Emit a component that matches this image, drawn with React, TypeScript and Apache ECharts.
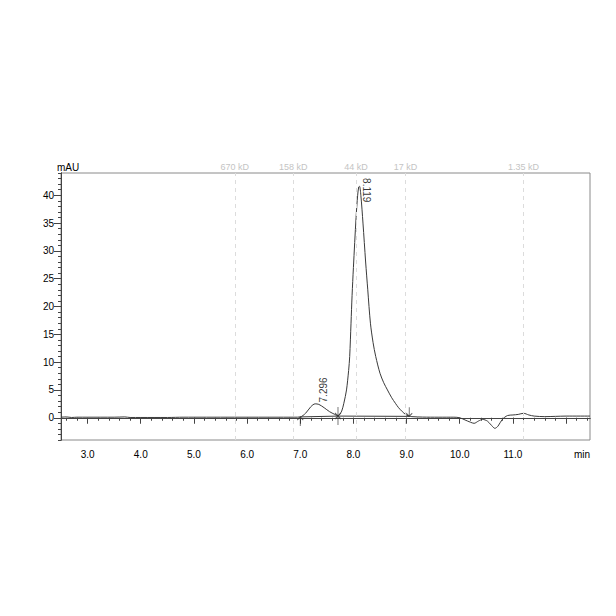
import React, { useEffect, useRef } from "react";
import * as echarts from "echarts";

const traceTime = [
  2.5, 2.6, 2.7, 2.8, 3.0, 3.5, 3.7, 3.8, 4.0, 4.5, 4.8, 5.0, 6.0, 6.9,
  7.0, 7.1, 7.2, 7.28, 7.35, 7.45, 7.55, 7.65, 7.71, 7.74, 7.78, 7.82, 7.87,
  7.91, 7.93, 7.955, 7.975, 8.0, 8.05, 8.08, 8.1, 8.115, 8.14, 8.18, 8.23,
  8.27, 8.32, 8.37, 8.42, 8.5, 8.57, 8.64, 8.72, 8.79, 8.85, 8.92, 8.98, 9.04,
  9.1, 9.3, 9.6, 9.89, 10.0, 10.1, 10.2, 10.27, 10.35, 10.43, 10.52, 10.6,
  10.66, 10.72, 10.8, 10.9, 11.0, 11.1, 11.2, 11.3, 11.4, 11.6, 11.8, 12.0, 12.45,
];
const traceValue = [
  0.1, 0.15, 0.05, 0.1, 0.1, 0.1, 0.15, 0.05, 0.05, 0.05, 0.1, 0.1, 0.1, 0.1,
  0.15, 0.8, 2.0, 2.5, 2.4, 1.8, 1.1, 0.6, 0.35, 0.6, 1.2, 2.6, 5.0,
  8.5, 11, 17, 22, 27, 36, 40, 41.5, 41.6, 40.0, 35, 28,
  23, 17, 13.5, 11, 8, 6.3, 5, 3.6, 2.6, 1.8, 1.1, 0.6, 0.3,
  0.2, 0.12, 0.1, 0.1, 0.0, -0.4, -0.8, -1.0, -0.6, -0.3, -0.6, -1.4,
  -1.9, -1.5, -0.3, 0.4, 0.5, 0.6, 0.8, 0.5, 0.3, 0.2, 0.25, 0.3, 0.3,
];

const baselineTime = [7.0, 7.71, 9.05];
const baselineValue = [0.15, 0.3, 0.25];

const upArrowTime = [7.0, 7.71];
const upArrowValue = [0.15, 0.3];
const downArrowTime = [7.71, 9.05];
const downArrowValue = [0.3, 0.25];

const peakLabels = ["7.296", "8.119"];
const peakLabelTime = [7.43, 8.24];
const peakLabelValue = [5.0, 40.9];
const peakLabelRotate = [90, -90];

const markerNames = ["670 kD", "158 kD", "44 kD", "17 kD", "1.35 kD"];
const markerTimes = [5.77, 6.87, 8.05, 8.98, 11.2];

const xMajorTicks = [3, 4, 5, 6, 7, 8, 9, 10, 11, 12];
const xLabelTicks = [3, 4, 5, 6, 7, 8, 9, 10, 11];
const yLabelTicks = [0, 5, 10, 15, 20, 25, 30, 35, 40];

const X_MIN = 2.5;
const X_MAX = 12.45;
const Y_MIN = -4;
const Y_MAX = 44;

const FONT = "Liberation Sans, Arial, sans-serif";

export default function App() {
  const ref = useRef<HTMLDivElement>(null);
  useEffect(() => {
    if (!ref.current) return;
    document.body.style.margin = "0";
    const chart = echarts.init(ref.current, null, { renderer: "svg" });

    const xMinorTicks: number[] = [];
    for (let i = 26; i <= 124; i += 2) xMinorTicks.push(i / 10);
    const yMinorTicks: number[] = [];
    for (let v = Y_MIN; v <= Y_MAX; v++) yMinorTicks.push(v);

    const axisLineStyle = { color: "#444", width: 1 };
    const arrowStyle = { color: "transparent", borderColor: "#333", borderWidth: 1 };

    chart.setOption({
      animation: false,
      backgroundColor: "#fff",
      textStyle: { fontFamily: FONT },
      grid: {
        left: 61,
        right: 26,
        top: 173,
        bottom: 176,
        show: true,
        borderColor: "#8a8a8a",
        borderWidth: 1,
      },
      xAxis: [
        {
          type: "value",
          min: X_MIN,
          max: X_MAX,
          position: "bottom",
          axisLine: { show: true, lineStyle: axisLineStyle },
          axisTick: { show: true, length: 3, customValues: xMinorTicks, lineStyle: axisLineStyle },
          axisLabel: { show: false },
          splitLine: { show: false },
        },
        {
          type: "value",
          min: X_MIN,
          max: X_MAX,
          position: "bottom",
          axisLine: { show: true, lineStyle: axisLineStyle },
          axisTick: { show: true, length: 6, customValues: xMajorTicks, lineStyle: axisLineStyle },
          axisLabel: {
            show: true,
            customValues: xLabelTicks,
            formatter: (v: number) => v.toFixed(1),
            color: "#000",
            fontSize: 10,
            fontFamily: FONT,
            margin: 9,
          },
          splitLine: { show: false },
        },
      ],
      yAxis: [
        {
          type: "value",
          min: Y_MIN,
          max: Y_MAX,
          position: "left",
          axisLine: { show: true, lineStyle: axisLineStyle },
          axisTick: { show: true, length: 3, customValues: yMinorTicks, lineStyle: axisLineStyle },
          axisLabel: { show: false },
          splitLine: { show: false },
        },
        {
          type: "value",
          min: Y_MIN,
          max: Y_MAX,
          position: "left",
          axisLine: { show: true, lineStyle: axisLineStyle },
          axisTick: { show: true, length: 7, customValues: yLabelTicks, lineStyle: axisLineStyle },
          axisLabel: {
            show: true,
            customValues: yLabelTicks,
            color: "#000",
            fontSize: 10,
            fontFamily: FONT,
            margin: 7,
          },
          splitLine: { show: false },
        },
      ],
      graphic: [
        {
          type: "text",
          left: 57,
          top: 162,
          style: { text: "mAU", font: `10px ${FONT}`, fill: "#000" },
        },
        {
          type: "text",
          left: 574,
          top: 449,
          style: { text: "min", font: `10px ${FONT}`, fill: "#000" },
        },
      ],
      series: [
        {
          type: "line",
          xAxisIndex: 0,
          yAxisIndex: 0,
          data: traceTime.map((t, i) => [t, traceValue[i]]),
          showSymbol: false,
          smooth: 0.3,
          lineStyle: { color: "#3a3a3a", width: 1 },
          z: 3,
          markLine: {
            silent: true,
            symbol: "none",
            lineStyle: { type: [4, 4], color: "#dcdcdc", width: 1 },
            label: {
              show: true,
              position: "end",
              distance: 2,
              formatter: (p: any) => p.name,
              color: "#c4c4c4",
              fontSize: 9,
              fontFamily: FONT,
            },
            data: markerNames.map((n, i) => ({ name: n, xAxis: markerTimes[i] })),
          },
        },
        {
          type: "line",
          xAxisIndex: 0,
          yAxisIndex: 0,
          data: baselineTime.map((t, i) => [t, baselineValue[i]]),
          showSymbol: false,
          lineStyle: { color: "#3a3a3a", width: 1 },
          z: 3,
        },
        {
          type: "scatter",
          xAxisIndex: 0,
          yAxisIndex: 0,
          data: upArrowTime.map((t, i) => [t, upArrowValue[i]]),
          symbol: "path://M3,0 L3,9 M0,3 L3,0 L6,3",
          symbolSize: [6, 9],
          symbolOffset: [0, 4.5],
          itemStyle: arrowStyle,
          z: 4,
        },
        {
          type: "scatter",
          xAxisIndex: 0,
          yAxisIndex: 0,
          data: downArrowTime.map((t, i) => [t, downArrowValue[i]]),
          symbol: "path://M3,0 L3,9 M0,6 L3,9 L6,6",
          symbolSize: [6, 9],
          symbolOffset: [0, -4.5],
          itemStyle: arrowStyle,
          z: 4,
        },
        {
          type: "scatter",
          xAxisIndex: 0,
          yAxisIndex: 0,
          symbolSize: 1,
          itemStyle: { color: "transparent" },
          data: peakLabels.map((n, i) => ({
            name: n,
            value: [peakLabelTime[i], peakLabelValue[i]],
            label: { rotate: peakLabelRotate[i] },
          })),
          label: {
            show: true,
            position: "inside",
            formatter: (p: any) => p.name,
            color: "#000",
            fontSize: 10,
            fontFamily: FONT,
          },
          z: 5,
        },
      ],
    });
    return () => chart.dispose();
  }, []);
  return <div ref={ref} style={{ width: 616, height: 616 }} />;
}
